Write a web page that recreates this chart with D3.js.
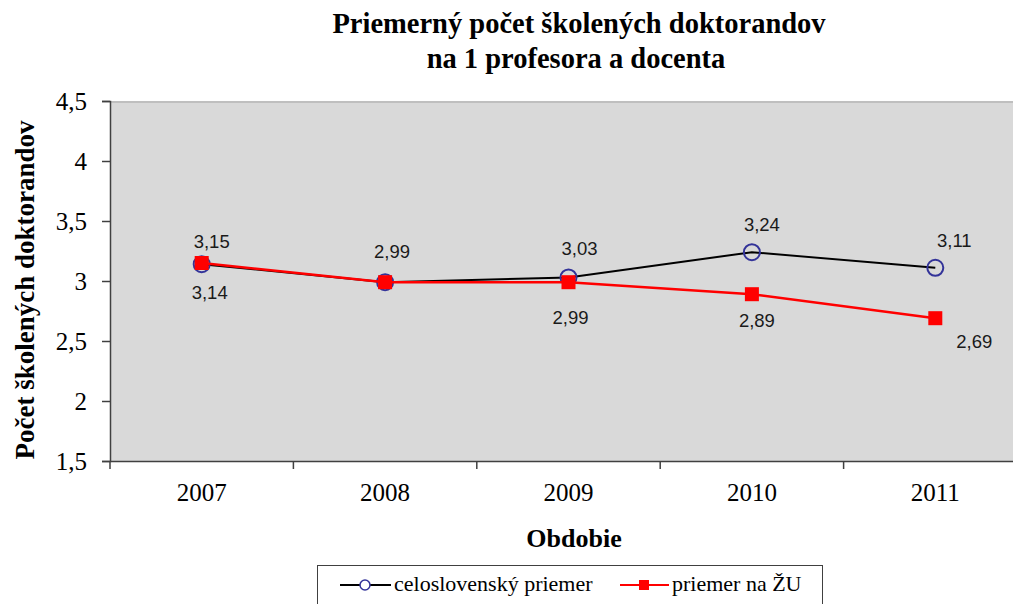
<!DOCTYPE html>
<html>
<head>
<meta charset="utf-8">
<script src="https://cdn.jsdelivr.net/npm/d3@7"></script>
<style>
  body { margin: 0; background: #fff; }
  svg { display: block; }
  .serif { font-family: "Liberation Serif", "Times New Roman", serif; }
  .lbl { font-family: "Liberation Sans", Arial, sans-serif; font-size: 18.5px; fill: #1a1a1a; }
</style>
</head>
<body>
<svg id="chart" width="1013" height="604"></svg>
<script>
// data
const years = ['2007', '2008', '2009', '2010', '2011']
const celoslovensky = [3.14, 2.99, 3.03, 3.24, 3.11]
const priemerZU = [3.15, 2.99, 2.99, 2.89, 2.69]
const yTicks = [1.5, 2, 2.5, 3, 3.5, 4, 4.5]
const seriesNames = ['celoslovenský priemer', 'priemer na ŽU']

// label placement relative to point (null = hidden, Excel overlapped it)
const blackLabelOff = [[8, 35], [7, -24], [11, -22], [10, -21], [19, -21]]
const redLabelOff = [[10, -15], null, [2, 42], [5, 33], [39, 30]]

const serifFont = '"Liberation Serif", "Times New Roman", serif'
const svg = d3.select('#chart')
const margin = {left: 110, top: 101, right: 1027, bottom: 461}

const x = d3.scaleBand().domain(years).range([margin.left, margin.right])
const y = d3.scaleLinear().domain([1.5, 4.5]).range([margin.bottom, margin.top])
const fmt = v => d3.format('.2f')(v).replace('.', ',')
const fmtTick = v => String(v).replace('.', ',')

// plot area
svg.append('rect')
    .attr('x', margin.left).attr('y', margin.top)
    .attr('width', margin.right - margin.left)
    .attr('height', margin.bottom - margin.top)
    .attr('fill', '#d9d9d9')
svg.append('line')
    .attr('x1', margin.left).attr('x2', margin.right)
    .attr('y1', margin.top + 1).attr('y2', margin.top + 1)
    .attr('stroke', '#bfbfbf').attr('stroke-width', 2)

// title
const title = svg.append('text').attr('class', 'serif')
    .attr('text-anchor', 'middle').attr('font-weight', 'bold')
    .attr('font-size', 28.5).attr('fill', '#000')
title.append('tspan').attr('x', 579).attr('y', 33).text('Priemerný počet školených doktorandov')
title.append('tspan').attr('x', 576).attr('y', 68).text('na 1 profesora a docenta')

// y axis
const yAxis = svg.append('g')
    .attr('transform', 'translate(' + margin.left + ',0)')
    .call(d3.axisLeft(y).tickValues(yTicks).tickSize(8).tickFormat(fmtTick))
    .attr('font-family', serifFont).attr('font-size', 25)
yAxis.select('.domain').attr('stroke', '#404040').attr('stroke-width', 1.5)
yAxis.selectAll('.tick line').attr('stroke', '#404040').attr('stroke-width', 1.5)
yAxis.selectAll('.tick text')
    .attr('fill', '#000')
    .attr('x', -23).attr('dy', '0.32em')

// x axis
const xAxis = svg.append('g')
    .attr('transform', 'translate(0,' + margin.bottom + ')')
    .call(d3.axisBottom(x).tickSize(0).tickSizeOuter(0))
    .attr('font-family', serifFont).attr('font-size', 25)
xAxis.select('.domain').attr('stroke', '#404040').attr('stroke-width', 1.5)
xAxis.selectAll('.tick text')
    .attr('fill', '#000')
    .attr('y', 40).attr('dy', 0)
// ticks between categories
svg.append('g').selectAll('line')
    .data(years)
    .enter().append('line')
    .attr('x1', d => x(d)).attr('x2', d => x(d))
    .attr('y1', margin.bottom).attr('y2', margin.bottom + 8)
    .attr('stroke', '#404040').attr('stroke-width', 1.5)

// axis titles
svg.append('text').attr('class', 'serif')
    .attr('text-anchor', 'middle').attr('font-weight', 'bold').attr('font-size', 26)
    .attr('x', 574).attr('y', 547).text('Obdobie')
svg.append('text').attr('class', 'serif')
    .attr('text-anchor', 'middle').attr('font-weight', 'bold').attr('font-size', 27)
    .attr('transform', 'translate(34,290) rotate(-90)')
    .text('Počet školených doktorandov')

const cx = (d, i) => x(years[i]) + x.bandwidth() / 2
const line = d3.line().x((d, i) => cx(d, i)).y(d => y(d))

// black series
svg.append('path').datum(celoslovensky)
    .attr('d', line).attr('fill', 'none')
    .attr('stroke', '#000').attr('stroke-width', 2)
svg.append('g').selectAll('circle')
    .data(celoslovensky)
    .enter().append('circle')
    .attr('cx', cx).attr('cy', d => y(d)).attr('r', 8)
    .attr('fill', 'none').attr('stroke', '#333399').attr('stroke-width', 2)

// red series
svg.append('path').datum(priemerZU)
    .attr('d', line).attr('fill', 'none')
    .attr('stroke', '#ff0000').attr('stroke-width', 2.5)
svg.append('g').selectAll('rect')
    .data(priemerZU)
    .enter().append('rect')
    .attr('x', (d, i) => cx(d, i) - 7).attr('y', d => y(d) - 7)
    .attr('width', 14).attr('height', 14)
    .attr('fill', '#ff0000')

// data labels
svg.append('g').selectAll('text')
    .data(celoslovensky)
    .enter().append('text')
    .attr('class', 'lbl').attr('text-anchor', 'middle')
    .attr('x', (d, i) => cx(d, i) + blackLabelOff[i][0])
    .attr('y', (d, i) => y(d) + blackLabelOff[i][1])
    .text(d => fmt(d))
svg.append('g').selectAll('text')
    .data(priemerZU.map((v, i) => ({v: v, i: i})).filter(d => redLabelOff[d.i]))
    .enter().append('text')
    .attr('class', 'lbl').attr('text-anchor', 'middle')
    .attr('x', d => cx(d.v, d.i) + redLabelOff[d.i][0])
    .attr('y', d => y(d.v) + redLabelOff[d.i][1])
    .text(d => fmt(d.v))

// legend
const legend = svg.append('g')
legend.append('rect')
    .attr('x', 317.5).attr('y', 565.5).attr('width', 505).attr('height', 60)
    .attr('fill', '#fff').attr('stroke', '#404040').attr('stroke-width', 1)
legend.append('line').attr('x1', 340).attr('x2', 391).attr('y1', 585).attr('y2', 585)
    .attr('stroke', '#000').attr('stroke-width', 2)
legend.append('circle').attr('cx', 365).attr('cy', 585).attr('r', 5)
    .attr('fill', '#fff').attr('stroke', '#333399').attr('stroke-width', 1.5)
legend.append('text').attr('class', 'serif').attr('font-size', 22)
    .attr('x', 394).attr('y', 591).text(seriesNames[0])
legend.append('line').attr('x1', 620).attr('x2', 669).attr('y1', 585).attr('y2', 585)
    .attr('stroke', '#ff0000').attr('stroke-width', 2)
legend.append('rect').attr('x', 639).attr('y', 580).attr('width', 10).attr('height', 10)
    .attr('fill', '#ff0000')
legend.append('text').attr('class', 'serif').attr('font-size', 22)
    .attr('x', 672).attr('y', 591).text(seriesNames[1])
</script>
</body>
</html>
